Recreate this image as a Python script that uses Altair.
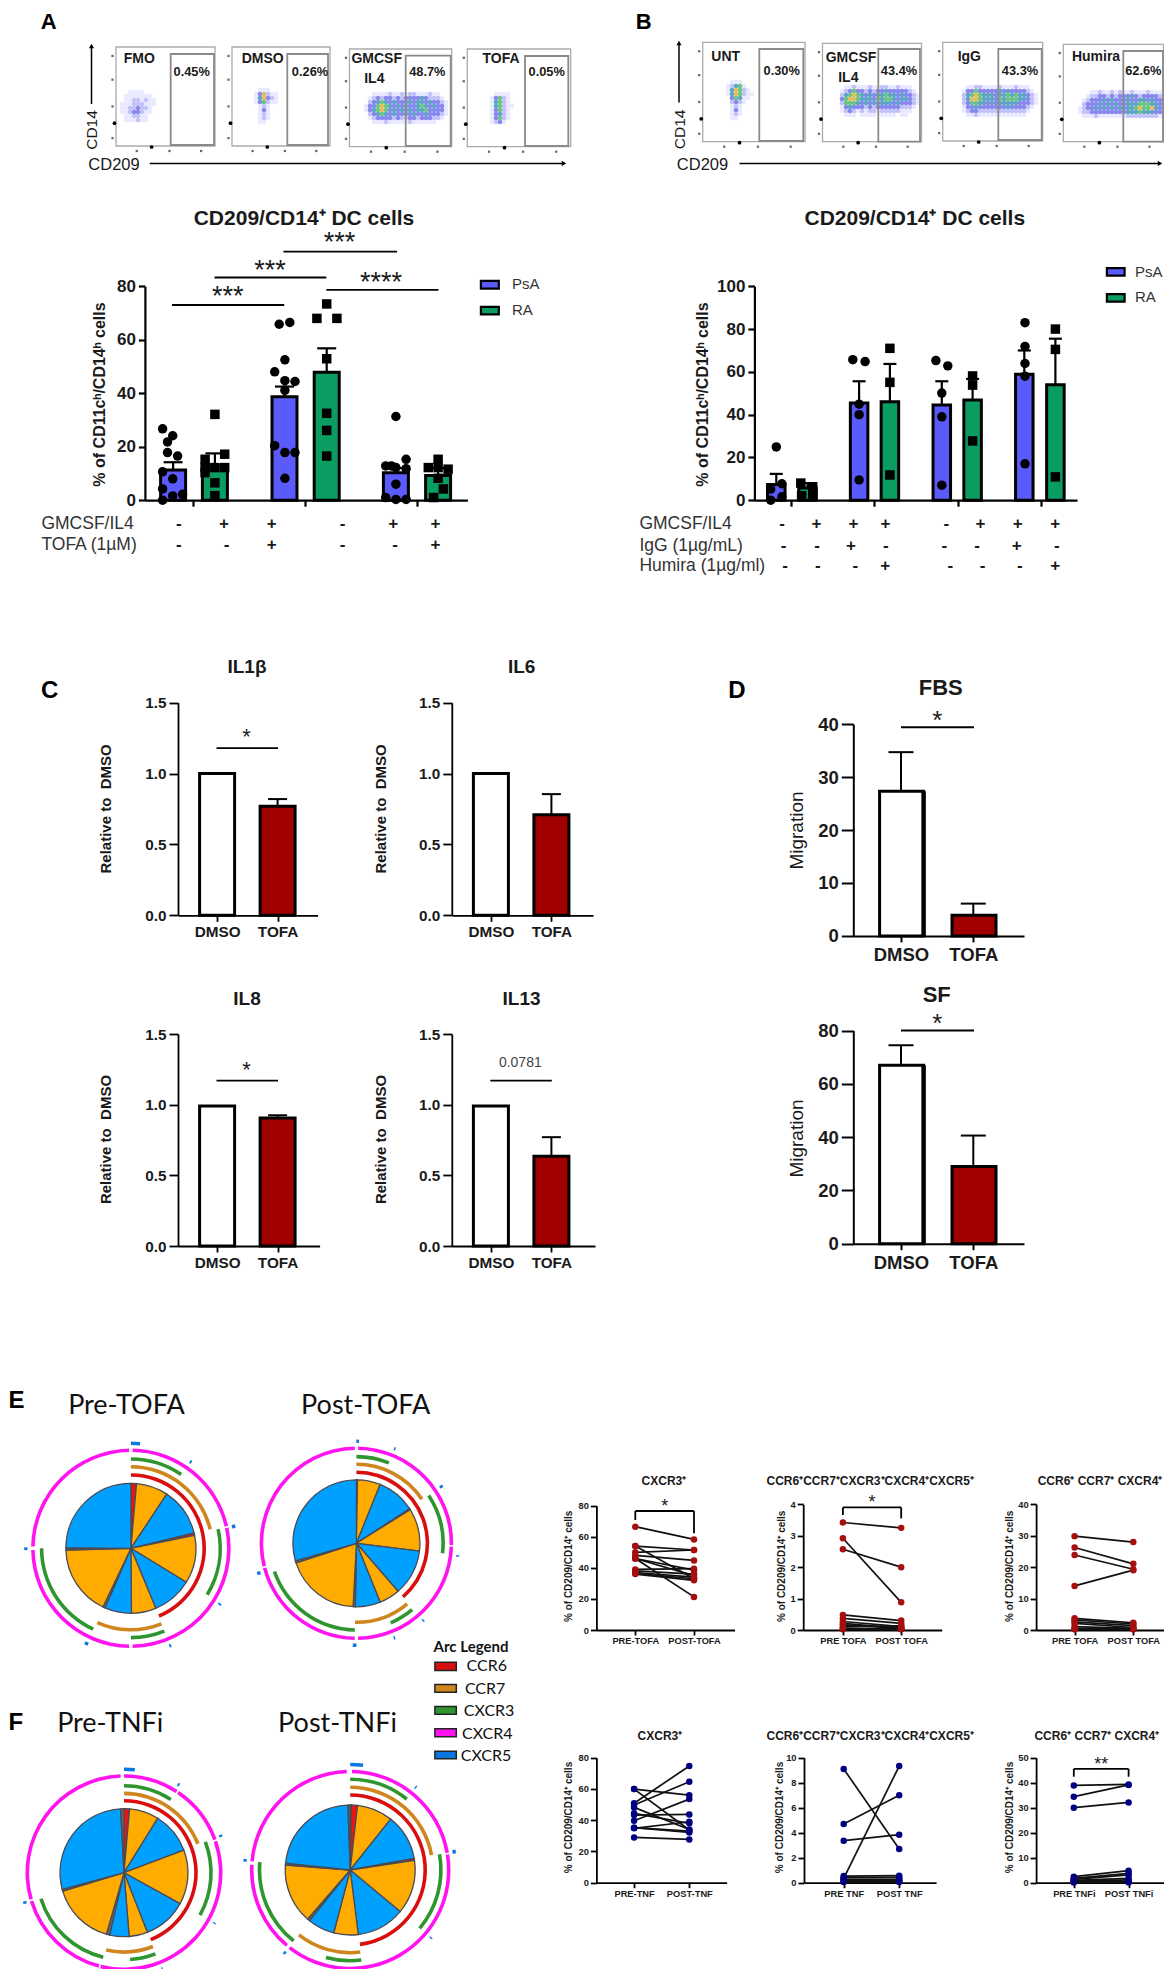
import altair as alt
import pandas as pd

SANS = "Liberation Sans"
CAL = "Lato"
PAGE_W, PAGE_H = 1156, 1961

PALETTE = {
    "PsA": "#5b5bfb", "RA": "#0b9c62", "DMSO": "#ffffff", "TOFA": "#a00000",
    "CCR6": "#d90f0f", "CCR7": "#cf861e", "CXCR3": "#2f962f", "CXCR4": "#ff14f0", "CXCR5": "#0a78e0",
    "red": "#f01212", "orange": "#ffab00", "blue": "#00a0ff", "grey": "#666666",
    "d1": "#e4e4ff", "d2": "#b4b4f8", "d3": "#6a6aea", "d4": "#3a8fb8", "d5": "#48b868", "d6": "#d8b038",
}
COLOR = dict(scale=alt.Scale(domain=list(PALETTE), range=list(PALETTE.values())), legend=None)


class Panel:
    def __init__(self, xl, xr, yb, yt, dom):
        self.xl, self.xr, self.yb, self.yt, self.dom = xl, xr, yb, yt, dom
        self.L = xr - xl
        self.xs = alt.Scale(domain=[0, self.L], range=[xl - 8, xr - 8], nice=False, zero=False)
        self.ys = alt.Scale(domain=list(dom), range=[yb - 8, yt - 8], nice=False, zero=False)

    def X(self, f="x"):
        return alt.X(f"{f}:Q", scale=self.xs, axis=None)

    def Y(self, f="y"):
        return alt.Y(f"{f}:Q", scale=self.ys, axis=None)


page = Panel(0, 1172, 0, 1977, (0, 1977))
layers = []


def rules(p, rows, width=2, color="black"):
    df = pd.DataFrame(rows, columns=["x", "y", "x2", "y2"])
    layers.append(alt.Chart(df).mark_rule(strokeWidth=width, color=color).encode(
        x=p.X(), y=p.Y(), x2=alt.X2("x2:Q"), y2=alt.Y2("y2:Q")))


def texts(p, rows, size, weight="normal", align="center", color="#1a1a1a", font=SANS, angle=None, dy=0):
    df = pd.DataFrame(rows, columns=["x", "y", "t"])
    kw = dict(fontSize=size, fontWeight=weight, align=align, baseline="middle", color=color, font=font, dy=dy)
    if angle is not None:
        kw["angle"] = angle
    layers.append(alt.Chart(df).mark_text(**kw).encode(x=p.X(), y=p.Y(), text="t:N"))


def boxes(p, rows, width=2, color="black", fill=False):
    cols = ["x", "y", "x2", "y2"] + (["k"] if fill else [])
    df = pd.DataFrame(rows, columns=cols)
    if fill:
        m = alt.Chart(df).mark_rect(stroke=color, strokeWidth=width).encode(
            x=p.X(), y=p.Y(), x2=alt.X2("x2:Q"), y2=alt.Y2("y2:Q"), color=alt.Color("k:N", **COLOR))
    else:
        m = alt.Chart(df).mark_rect(stroke=color, strokeWidth=width, fillOpacity=0, fill="white").encode(
            x=p.X(), y=p.Y(), x2=alt.X2("x2:Q"), y2=alt.Y2("y2:Q"))
    layers.append(m)


def dots(p, rows, shape="circle", size=80, color="black"):
    df = pd.DataFrame(rows, columns=["x", "y"])
    layers.append(alt.Chart(df).mark_point(filled=True, shape=shape, size=size, color=color, opacity=1).encode(
        x=p.X(), y=p.Y()))


def axes(p, yvals, ytitle, title_xy, xvals, xlabels=None, lab=15, tsize=15, tweight="bold", ytick=6, xtick=6,
         yfmt="d", w=2, pady=3, padx=3, tfont=SANS):
    df = pd.DataFrame({"x": [0, p.L], "y": list(p.dom)})
    lo = alt.Axis(orient="left", offset=-(p.xl - 8), values=yvals, format=yfmt, grid=False, tickSize=ytick, tickWidth=w,
                  domainWidth=w, tickColor="black", domainColor="black", labelFont=SANS, labelFontSize=lab,
                  labelFontWeight="bold", labelColor="#1a1a1a", labelPadding=pady, labelOverlap=False,
                  labelFlush=False, title=ytitle, titleFont=tfont, titleFontSize=tsize, titleFontWeight=tweight,
                  titleColor="#1a1a1a", titleX=title_xy[0] - p.xl, titleY=title_xy[1] - 8, titleBaseline="middle",
                  titleAngle=270, titleAlign="center")
    kw = dict(orient="bottom", offset=-(PAGE_H - (p.yb - 8)), values=xvals, grid=False, tickSize=xtick, tickWidth=w,
              domainWidth=w, tickColor="black", domainColor="black", title=None, labelFont=SANS, labelFontSize=lab,
              labelFontWeight="bold", labelColor="#1a1a1a", labelPadding=padx, labelOverlap=False, labelFlush=False)
    if xlabels:
        mid = sum(xvals) / 2
        kw["labelExpr"] = f"datum.value < {mid} ? '{xlabels[0]}' : '{xlabels[1]}'"
    else:
        kw["labels"] = False
    layers.append(alt.Chart(df).mark_point(opacity=0).encode(
        x=alt.X("x:Q", scale=p.xs, axis=alt.Axis(**kw)), y=alt.Y("y:Q", scale=p.ys, axis=lo)))


def bars(p, xs, tops, kinds, w, sw=3):
    df = pd.DataFrame({"x": [a - (w - sw) / 2 for a in xs], "x2": [a + (w - sw) / 2 for a in xs], "y": tops,
                       "y2": [0] * len(xs), "k": kinds})
    layers.append(alt.Chart(df).mark_rect(stroke="black", strokeWidth=sw).encode(
        x=p.X(), y=p.Y(), x2=alt.X2("x2:Q"), y2=alt.Y2("y2:Q"), color=alt.Color("k:N", **COLOR)))


def errs(p, xs, tops, errors, cap, width=2.2):
    rows = []
    for a, t, e in zip(xs, tops, errors):
        rows.append((a, t, a, e))
        rows.append((a - cap / 2, e, a + cap / 2, e))
    rules(p, rows, width)


# ---------------------------------------------------------------- A / B bars
A_bar_x = [28.2, 70, 139.6, 181.8, 251, 293.2]
A_means = [11.3, 12.9, 38.7, 47.9, 10.3, 9.2]
A_errors = [14.2, 17.5, 42.5, 56.8, 12, 12]
A_kinds = ["PsA", "RA"] * 3
A_ticks = [48.1, 160, 272.1]
A_points = [
    [(-10.5, 26.7), (-.4, 24.1), (-5.6, 21.8), (4.5, 16.5), (-5.6, 17.8), (-10.5, 10.6), (-.4, 8), (-10.5, 4.2), (9.4, 2.2), (-.4, 1.6), (-10.5, 0)],
    [(0, 32.1), (9.8, 17.2), (-9.8, 15.3), (9.8, 12.2), (-9.8, 10.3), (0, 6.5), (0, 1.7), (-9.8, 12.2), (0, 12.2)],
    [(-5.3, 65.8), (5.3, 66.5), (.4, 52.5), (-9.8, 48), (.4, 44.7), (10.5, 44.4), (.4, 41.1), (-9.8, 20.4), (.4, 17.8), (10.5, 17.8), (.4, 8.2)],
    [(0, 73.4), (-9.8, 68), (10.2, 68), (0, 52.9), (0, 32.5), (0, 26.1), (0, 16.5)],
    [(0, 31.3), (10.2, 15.3), (-10.2, 12.8), (0, 12.2), (10.2, 11.8), (0, 6), (-10.2, 1), (0, .3), (10.2, .3), (-4.5, 12.8)],
    [(0, 15.3), (-9.8, 12.2), (10, 11.6), (0, 12.2), (0, 8.2), (5.3, 4.2), (-4.5, 1)],
]
A_sig = [(27.1, 73, 139.3, "***", 82.8, 78.7), (69.6, 83.3, 181.4, "***", 125, 88.5),
         (138.5, 93, 252.2, "***", 194.6, 98.8), (181.4, 78.7, 293.6, "****", 236, 83.9)]
A_row_names = ["GMCSF/IL4", "TOFA (1µM)"]
A_row1 = [(33.9, "-"), (79, "+"), (126.8, "+"), (197.6, "-"), (248.3, "+"), (290.6, "+")]
A_row2 = [(33.9, "-"), (81.6, "-"), (126.8, "+"), (197.6, "-"), (250.2, "-"), (290.6, "+")]

B_bar_x = [21.9, 53.1, 104.7, 135.5, 187.4, 218.2, 269.9, 301]
B_means = [7.3, 5.7, 45.4, 46, 44.5, 46.9, 58.9, 54]
B_errors = [12.3, 8, 55.6, 63.7, 55.6, 56.7, 70, 75.5]
B_kinds = ["PsA", "RA"] * 4
B_ticks = [36.4, 119.6, 203.9, 286.6]
B_points = [
    [(0, 24.9), (5.6, 7.7), (-5.6, 5.2), (5.6, 1.6), (-5.6, 0)],
    [(-6.7, 8), (5.2, 6.3), (5.2, 2.1), (-5.9, 2.1)],
    [(-6.3, 65.7), (6, 64.8), (0, 44.9), (0, 40), (0, 9.5)],
    [(0, 71), (0, 55.1), (0, 11.8)],
    [(-5.9, 65.3), (6, 62.8), (0, 50.1), (0, 39), (0, 7)],
    [(0, 58.1), (0, 53.8), (0, 27.7)],
    [(.7, 83), (.7, 71.9), (.7, 63.9), (.7, 58), (.7, 17)],
    [(0, 80), (0, 70.5), (0, 10.9)],
]
B_row1 = [(27.8, "-"), (62, "+"), (99.1, "+"), (131, "+"), (191.9, "-"), (226.1, "+"), (263.2, "+"), (300.7, "+")]
B_row2 = [(29.3, "-"), (62.7, "-"), (96.5, "+"), (131.4, "-"), (190, "-"), (222.7, "-"), (262.4, "+"), (302.5, "-")]
B_row3 = [(30.8, "-"), (63.5, "-"), (101, "-"), (130.7, "+"), (196, "-"), (228.3, "-"), (265.4, "-"), (300.7, "+")]

YTITLE_AB = "% of CD11cʰ/CD14ʰ cells"

pA = Panel(144.9, 467.4, 500.2, 286.3, (0, 80))
axes(pA, [0, 20, 40, 60, 80], YTITLE_AB, (99.7, 394), A_ticks, lab=17, tsize=16, ytick=6.5, w=2.2)
bars(pA, A_bar_x, A_means, A_kinds, 28)
errs(pA, A_bar_x, A_means, A_errors, 19)
for i, pts in enumerate(A_points):
    dots(pA, [(A_bar_x[i] + dx, v) for dx, v in pts], "circle" if i % 2 == 0 else "square", 90)
for x1, y1, x2, s, sx, sy in A_sig:
    rules(pA, [(x1, y1, x2, y1)], 1.8)
    texts(pA, [(sx, sy, s)], 27, dy=7)
texts(pA, [(x, -9, t) for x, t in A_row1] + [(x, -16.6, t) for x, t in A_row2], 17, "bold")

pB = Panel(754.4, 1077, 500.2, 286.3, (0, 100))
axes(pB, [0, 20, 40, 60, 80, 100], YTITLE_AB, (702.5, 394), B_ticks, lab=17, tsize=16, ytick=6.5, w=2.2)
bars(pB, B_bar_x, B_means, B_kinds, 20.5)
errs(pB, B_bar_x, B_means, B_errors, 13)
for i, pts in enumerate(B_points):
    dots(pB, [(B_bar_x[i] + dx, v) for dx, v in pts], "circle" if i % 2 == 0 else "square", 90)
texts(pB, [(x, -11.3, t) for x, t in B_row1] + [(x, -21.3, t) for x, t in B_row2] + [(x, -30.6, t) for x, t in B_row3],
      17, "bold")

texts(page, [(304, 219.3, "CD209/CD14⁺ DC cells"), (914.8, 219.3, "CD209/CD14⁺ DC cells")], 21, "bold")
texts(page, [(41.4, 524.3, A_row_names[0]), (41.4, 544.6, A_row_names[1]), (639.4, 524.3, "GMCSF/IL4"),
             (639.4, 545.7, "IgG (1µg/mL)"), (639.4, 565.6, "Humira (1µg/ml)")], 17.5, align="left", color="#333333")

# legends of A and B
boxes(page, [(480.9, 280.8, 498.8, 288.7, "PsA"), (480.9, 306.8, 498.8, 314.3, "RA"),
             (1106.9, 268.1, 1124.6, 275.7, "PsA"), (1106.9, 294.1, 1124.6, 301.7, "RA")], 2.2, fill=True)
texts(page, [(511.9, 284, "PsA"), (511.9, 310, "RA"), (1135, 271.7, "PsA"), (1135, 297.4, "RA")], 15,
      align="left", color="#333333")

# ---------------------------------------------------------------- flow plots
flow_frames = [
    (116, 215, 47, 146), (232, 330, 47, 146), (349.5, 451.7, 49, 146.7), (467.3, 570.7, 49, 146.7),
    (702.7, 805, 42.3, 141.7), (822.5, 921.5, 43.3, 141.7), (942.7, 1042.7, 42.3, 141), (1063.3, 1163.5, 44.3, 141.7),
]
flow_gates = [
    (170.7, 214, 54, 145), (287.3, 328, 54, 145), (405.7, 450.7, 55.7, 146), (525, 568.3, 56, 146),
    (759.3, 803.3, 49, 141), (878.3, 920, 49, 141.7), (998.3, 1041.7, 49, 140), (1123.3, 1163, 51, 141.7),
]
flow_names = [
    (139.3, 59, "FMO"), (262.7, 59, "DMSO"), (376.7, 59, "GMCSF"), (374.3, 78.7, "IL4"), (501, 59, "TOFA"),
    (725.7, 56.7, "UNT"), (851, 57.7, "GMCSF"), (848.3, 77.7, "IL4"), (969.3, 56.7, "IgG"), (1096, 56.7, "Humira"),
]
flow_pct = [
    (191.7, 71.7, "0.45%"), (310, 71.7, "0.26%"), (427.3, 71.7, "48.7%"), (546.7, 72.3, "0.05%"),
    (781.7, 70.7, "0.30%"), (899, 70.7, "43.4%"), (1020, 70.7, "43.3%"), (1143.3, 70.7, "62.6%"),
]
flow_density = [
    (120, 90, ["0011110000", "0111111100", "0112212110", "1112221110", "1122322100", "1123321100", "0112211000", "0111211000"]),
    (250, 88, ["0011100", "0136211", "0146321", "0135211", "0012100", "0013100", "0012100", "0012100", "0011000"]),
    (364, 92, ["001111211212211121100", "012323323233334322210", "023454343334344343321", "133565434343345434331",
               "134565343434344533331", "023454343343433433321", "012333323223323332210", "001112111112111111000"]),
    (486, 92, ["0011110", "0135210", "0145210", "0145211", "0135210", "0134210", "0135210", "0123100"]),
    (722, 80, ["00111000", "01245100", "01465210", "01465211", "00354110", "00232100", "00121000", "00131000", "00121000", "00110000"]),
    (836, 85, ["001121112112211211100", "012353323233433333210", "024565434344544343321", "035665444354554344321",
               "025554343434443433321", "013433323233333322210", "012321212212222211100", "001110111101111011000"]),
    (958, 85, ["00112211112111211100", "01335333334343333210", "02456544434454544321", "02466544435455544321",
               "02355443434444433321", "01334333333343333210", "01233222222222222100", "00112111111111111000"]),
    (1078, 90, ["00011211212112111211100", "00122332323334323333210", "01233343433343344343321", "02333434343344455544321",
                "12334343434344565564321", "12233333333344454443321", "01112111111122222222110"]),
]
rows = []
for x0, y0, grid in flow_density:
    for r, line in enumerate(grid):
        for c, ch in enumerate(line):
            if ch != "0":
                rows.append((x0 + 4 * c + 2, y0 + 4 * r + 2, "d" + ch))
rows.sort(key=lambda t: t[2])
layers.append(alt.Chart(pd.DataFrame(rows, columns=["x", "y", "k"])).mark_point(
    filled=True, shape="circle", size=22, opacity=0.8, strokeWidth=0).encode(
    x=page.X(), y=page.Y(), color=alt.Color("k:N", **COLOR), order=alt.Order("k:N")))
boxes(page, [(l, t, r, b) for l, r, t, b in flow_frames], 1.3, "#aaaaaa")
boxes(page, [(l, t, r, b) for l, r, t, b in flow_gates], 1.8, "#8a8a8a")
grey_t, black_t = [], []
for l, r, t, b in flow_frames:
    for f in (.09, .33, .6, .92):
        grey_t.append((l - 3.5, t + (b - t) * f))
    for f in (.21, .54, .86):
        grey_t.append((l + (r - l) * f, b + 5))
    black_t.append((l - 1.5, t + (b - t) * .77))
    black_t.append((l + (r - l) * .36, b + 1))
dots(page, grey_t, "square", 5, "#666666")
dots(page, black_t, "circle", 14, "black")
texts(page, flow_names, 14, "bold")
texts(page, flow_pct, 12.8, "bold")
texts(page, [(91.5, 130, "CD14"), (680.2, 129.4, "CD14")], 15.5, angle=270)
texts(page, [(114, 164.6, "CD209"), (702.5, 164.6, "CD209")], 16.5)
rules(page, [(91.5, 104, 91.5, 47), (149.8, 163.4, 563, 163.4), (679, 102.6, 679, 44), (739.6, 163.4, 1160, 163.4)], 1.5)
dots(page, [(91.5, 46), (679, 43)], "triangle-up", 26)
dots(page, [(564, 163.4), (1160, 163.4)], "triangle-right", 26)

# ---------------------------------------------------------------- C
C_names = ["IL1β", "IL6", "IL8", "IL13"]
C_dmso = [1.0, 1.0, 0.99, 0.99]
C_tofa = [0.77, 0.71, 0.905, 0.635]
C_err = [0.82, 0.855, 0.925, 0.77]
C_layout = [(178, 317.6, 915.3, 702.7, 667.4, 105.3, 808.4), (451.8, 593, 915.3, 702.7, 667.4, 380.8, 808.4),
            (178, 319.6, 1246, 1034, 999, 105.3, 1139), (451.8, 595, 1246, 1034, 999, 380.8, 1139)]
C_title_x = [247, 521.6, 247, 521.6]
for i, name in enumerate(C_names):
    xl, xr, yb, yt, ty, tx, tcy = C_layout[i]
    p = Panel(xl, xr, yb, yt, (0, 1.5))
    axes(p, [0, .5, 1, 1.5], "Relative to\u00a0\u00a0DMSO", (tx, tcy), [39.1, 99.6], ["DMSO", "TOFA"], lab=15.3, tsize=15,
         ytick=9, yfmt=".1f", w=1.8, padx=3)
    bars(p, [39.1, 99.6], [C_dmso[i], C_tofa[i]], ["DMSO", "TOFA"], 38)
    errs(p, [99.6], [C_tofa[i]], [C_err[i]], 19, 2)
    texts(page, [(C_title_x[i], ty, name)], 19, "bold")
for idx, lab, ly, sy in [(0, "*", 1.18, 1.29), (2, "*", 1.17, 1.28), (3, "0.0781", 1.17, 1.295)]:
    xl, xr, yb, yt, *_ = C_layout[idx]
    p = Panel(xl, xr, yb, yt, (0, 1.5))
    rules(p, [(38.5, ly, 100, ly)], 1.8)
    if lab == "*":
        texts(p, [(68.5, sy, lab)], 22, dy=5)
    else:
        texts(p, [(68.5, sy, lab)], 14, color="#444444")

# ---------------------------------------------------------------- D
D_names = ["FBS", "SF"]
D_dmso = [27.3, 67]
D_tofa = [3.9, 29]
D_dmso_err = [34.7, 74.5]
D_tofa_err = [6.1, 40.6]
D_layout = [(935.9, 724.1, 40, [0, 10, 20, 30, 40], 687.8, 940.7, 41.8, 39.4, 830),
            (1243.7, 1030.6, 80, [0, 20, 40, 60, 80], 994.7, 936.7, 84.7, 80, 1138)]
for i, name in enumerate(D_names):
    yb, yt, top, vals, ty, tx, sy, ly, tcy = D_layout[i]
    p = Panel(853.3, 1024, yb, yt, (0, top))
    axes(p, vals, "Migration", (796, tcy), [47.7, 120], ["DMSO", "TOFA"], lab=18.5, tsize=19, tweight="normal",
         ytick=12, w=2, padx=4)
    bars(p, [48.3, 120.7], [D_dmso[i], D_tofa[i]], ["DMSO", "TOFA"], 47, 3)
    rules(p, [(70.3, 0, 70.3, D_dmso[i])], 4.5)
    errs(p, [47.7, 120], [D_dmso[i], D_tofa[i]], [D_dmso_err[i], D_tofa_err[i]], 25, 2)
    rules(p, [(47.7, ly, 120.7, ly)], 2)
    texts(p, [(84, sy, "*")], 26, dy=6)
    texts(page, [(tx, ty, name)], 22, "bold")

# ---------------------------------------------------------------- E / F pies
KIND_WIDTH = 3.6


def pie(cx, cy, R, sectors, rings, ring_r, ticks, tick_r):
    p = Panel(cx - 150, cx + 150, cy + 150, cy - 150, (-150, 150))
    th = alt.Theta("a:Q", scale=alt.Scale(domain=[0, 360]), stack=None)
    df = pd.DataFrame(sectors, columns=["a", "b", "k"]).assign(x=150, y=0)
    layers.append(alt.Chart(df).mark_arc(radius=R, radius2=0, stroke="#4a4a55", strokeWidth=1.3).encode(
        x=p.X(), y=p.Y(), theta=th, theta2=alt.Theta2("b:Q"), color=alt.Color("k:N", **COLOR)))
    for kind, segs in rings.items():
        r = ring_r[kind]
        d = pd.DataFrame(segs, columns=["a", "b"]).assign(x=150, y=0, k=kind)
        layers.append(alt.Chart(d).mark_arc(radius=r + KIND_WIDTH / 2, radius2=r - KIND_WIDTH / 2).encode(
            x=p.X(), y=p.Y(), theta=th, theta2=alt.Theta2("b:Q"), color=alt.Color("k:N", **COLOR)))
    d = pd.DataFrame(ticks, columns=["a", "b"]).assign(x=150, y=0, k="CXCR5")
    layers.append(alt.Chart(d).mark_arc(radius=tick_r + 1.7, radius2=tick_r - 1.7).encode(
        x=p.X(), y=p.Y(), theta=th, theta2=alt.Theta2("b:Q"), color=alt.Color("k:N", **COLOR)))


pre_tofa_sectors = [(0, 5, "red"), (5, 33.5, "orange"), (33.5, 76.5, "blue"), (76.5, 78.5, "red"), (78.5, 121.5, "orange"),
                    (121.5, 157.5, "blue"), (157.5, 179.5, "orange"), (179.5, 203.5, "blue"), (203.5, 205.5, "grey"),
                    (205.5, 268.5, "orange"), (268.5, 270.5, "grey"), (270.5, 360, "blue")]
pie(130.9, 1548.3, 65, pre_tofa_sectors,
    {"CXCR4": [(1, 77), (78, 179), (181, 269), (271, 359)], "CCR6": [(0, 157.5)], "CCR7": [(0, 76.5), (158, 204.3)],
     "CXCR3": [(0, 34.3), (77.6, 121.3), (158, 180), (205, 270)]},
    {"CXCR4": 98, "CCR6": 73.3, "CCR7": 81.5, "CXCR3": 89.3},
    [(0, 5), (34.2, 35.2), (77, 79), (121.7, 122.7), (157.5, 158.5), (204, 206), (269, 270.5)], 105)

post_tofa_sectors = [(0, 1, "grey"), (1, 22, "orange"), (22, 57, "blue"), (57, 58, "grey"), (58, 97, "orange"),
                     (97, 139, "blue"), (139, 158, "orange"), (158, 181, "blue"), (181, 183, "grey"),
                     (183, 252, "orange"), (252, 254, "grey"), (254, 360, "blue")]
pie(356.4, 1543.3, 63.5, post_tofa_sectors,
    {"CXCR4": [(1, 91), (92, 179), (181, 255), (256, 359)], "CCR6": [(0, 139)], "CCR7": [(0, 56), (140, 181)],
     "CXCR3": [(0, 22), (56.5, 96.6), (140, 156.7), (181, 251)]},
    {"CXCR4": 95, "CCR6": 71, "CCR7": 79, "CXCR3": 86.7},
    [(0, 1.5), (21.7, 22.5), (55.5, 57), (96.7, 97.5), (138.7, 139.5), (157.7, 158.5), (180, 182), (252, 254)], 102)

pre_tnf_sectors = [(0, 5, "red"), (5, 31.8, "orange"), (31.8, 69.4, "blue"), (69.4, 118.9, "orange"), (118.9, 158.6, "blue"),
                   (158.6, 175.4, "orange"), (175.4, 193, "blue"), (193, 196, "grey"), (196, 253.3, "orange"),
                   (253.3, 255, "grey"), (255, 357, "blue"), (357, 360, "grey")]
pie(124, 1872.7, 64, pre_tnf_sectors,
    {"CXCR4": [(0, 33), (34, 70), (71, 194), (195, 253), (254, 358)], "CCR6": [(0, 158.2)], "CCR7": [(0, 68.6), (158.6, 193)],
     "CXCR3": [(0, 32.6), (69.2, 119.2), (158.8, 176), (193.8, 252.6)]},
    {"CXCR4": 96.7, "CCR6": 72, "CCR7": 79.3, "CXCR3": 87},
    [(0, 6), (31.3, 32.3), (68.5, 69.7), (118.8, 119.5), (158, 158.7), (193.5, 195), (252.5, 254)], 103.5)

post_tnf_sectors = [(0, 1, "grey"), (1, 6.5, "red"), (6.5, 38.5, "orange"), (38.5, 79.8, "blue"), (79.8, 81.5, "red"),
                    (81.5, 129.8, "orange"), (129.8, 172.9, "blue"), (172.9, 194.7, "orange"), (194.7, 218.8, "blue"),
                    (218.8, 221, "grey"), (221, 274.4, "orange"), (274.4, 276, "grey"), (276, 358, "blue"), (358, 360, "grey")]
pie(350.2, 1870, 65, post_tnf_sectors,
    {"CXCR4": [(1, 80), (81, 218), (220, 273), (275, 358)], "CCR6": [(0, 172.5)], "CCR7": [(0, 79.6), (173, 218.3)],
     "CXCR3": [(0, 38.6), (80, 130), (173, 195.5), (218.6, 275)]},
    {"CXCR4": 98.5, "CCR6": 75, "CCR7": 82.7, "CXCR3": 90.7},
    [(0, 7), (38, 38.8), (79, 81), (129.7, 130.4), (195, 195.7), (217.7, 219), (274.5, 276)], 105.5)

texts(page, [(126.4, 1406, "Pre-TOFA"), (365.7, 1406, "Post-TOFA"), (110.2, 1724.3, "Pre-TNFi"), (337.5, 1724.3, "Post-TNFi")],
      27, font=CAL, color="#111111")

arc_names = ["CCR6", "CCR7", "CXCR3", "CXCR4", "CXCR5"]
arc_boxes = [(434.9, 1662.2, 456.3, 1670.5), (434.9, 1684.5, 456.3, 1692.2), (434.9, 1706.5, 456.3, 1714.2),
             (434.9, 1728.8, 456.3, 1736.8), (434.9, 1751.2, 456.3, 1758.8)]
arc_text = [(466.6, 1666.3), (464.9, 1688.7), (463.8, 1710.7), (462, 1734.3), (460.7, 1756)]
boxes(page, [b + (n,) for b, n in zip(arc_boxes, arc_names)], 1.5, "#222222", fill=True)
texts(page, [t + (n,) for t, n in zip(arc_text, arc_names)], 16, font=CAL, align="left", color="#111111")
texts(page, [(471, 1646.7, "Arc Legend")], 15, "bold", font=CAL, color="#111111")
texts(page, [(48.6, 22, "A"), (643.6, 22, "B")], 22, "bold", color="#000000")
texts(page, [(49.7, 690.5, "C"), (737, 690.6, "D")], 24, "bold", color="#000000")
texts(page, [(8.5, 1401, "E"), (8.5, 1723, "F")], 24, "bold", align="left", color="#000000")

# ---------------------------------------------------------------- paired line panels
E1_pre = [66.5, 54, 54, 50, 48, 46, 46, 39, 38, 37, 36.5, 36, 46]
E1_post = [58.3, 51.5, 33, 51.5, 44.8, 38.5, 21.3, 39.5, 36, 34, 33, 32, 35]
E2_pre = [3.42, 2.92, 2.57, .48, .37, .27, .16, .1, .05, .03, .02, .21]
E2_post = [3.25, .88, 2.0, .3, .21, .11, .05, .13, .02, .03, .02, .05]
E3_pre = [29.8, 26.2, 23.8, 14, 3.7, 3.2, 2.6, 2.1, 1.1, .5, .3, .2]
E3_post = [27.9, 21, 19.3, 19, 2.3, 1.9, 1.4, .8, .5, .3, .2, .2]
F1_pre = [59.9, 59.9, 50.8, 49.7, 48.2, 43.3, 39.7, 35.2, 34.8, 29, 44.4, 35.2]
F1_post = [56, 33.7, 74.7, 64.6, 34.1, 43.7, 53.5, 33, 39, 27.7, 38, 32.2]
F2_pre = [9.1, 4.7, 3.36, .35, .53, .4, .27, .19, .1, .05]
F2_post = [2.7, 7, 3.84, 9.33, .56, .43, .27, .19, .13, .05]
F3_pre = [38.9, 34.4, 30, 2.4, 1.7, 1.3, .9, .5, .3, .1]
F3_post = [39.3, 39.1, 32.1, 4.8, 3.7, 3.1, 1.7, 1.1, .4, .1]

TITLE3 = "CCR6⁺CCR7⁺CXCR3⁺CXCR4⁺CXCR5⁺"
line_panels = [
    ("CXCR3⁺", 663.9, 1480.7, 596.4, 734.5, 1630, 1505.7, (0, 80), [0, 20, 40, 60, 80], (38.9, 97.6), ("PRE-TOFA", "POST-TOFA"), 568.7, 1565.8, "#a50f0f", E1_pre, E1_post),
    (TITLE3, 870.2, 1480.7, 803.2, 941.7, 1630, 1504.3, (0, 4), [0, 1, 2, 3, 4], (39.7, 98), ("PRE TOFA", "POST TOFA"), 781, 1565.8, "#a50f0f", E2_pre, E2_post),
    ("CCR6⁺ CCR7⁺ CXCR4⁺", 1100, 1480.7, 1036.1, 1172, 1630, 1504, (0, 40), [0, 10, 20, 30, 40], (38.5, 97.2), ("PRE TOFA", "POST TOFA"), 1009.1, 1565.8, "#a50f0f", E3_pre, E3_post),
    ("CXCR3⁺", 659.9, 1736, 596.4, 726.6, 1882.7, 1757.7, (0, 80), [0, 20, 40, 60, 80], (37.7, 92.9), ("PRE-TNF", "POST-TNF"), 568.7, 1817, "#000080", F1_pre, F1_post),
    (TITLE3, 870.2, 1736, 804, 936.1, 1882.7, 1757.7, (0, 10), [0, 2, 4, 6, 8, 10], (39.7, 95.2), ("PRE TNF", "POST TNF"), 779.4, 1817, "#000080", F2_pre, F2_post),
    ("CCR6⁺ CCR7⁺ CXCR4⁺", 1096.8, 1736, 1036.1, 1165.9, 1882.7, 1757.7, (0, 50), [0, 10, 20, 30, 40, 50], (37.7, 92.5), ("PRE TNFi", "POST TNFi"), 1009.1, 1817, "#000080", F3_pre, F3_post),
]
brackets = {0: (76.6, 70.8, 62.2, "*", 82), 1: (3.9, 3.66, 3.55, "*", 4.16), 5: (45.5, 42.4, 42.4, "**", 48.8)}
for i, (title, tx, ty, xl, xr, yb, yt, dom, vals, tk, labs, ytx, yty, col, pre, post) in enumerate(line_panels):
    p = Panel(xl, xr, yb, yt, dom)
    axes(p, vals, "% of CD209/CD14⁺ cells", (ytx, yty), list(tk), list(labs), lab=9.3, tsize=10, ytick=6, xtick=5,
         w=1.8, pady=2, padx=1.5)
    long = []
    for j, (a, b) in enumerate(zip(pre, post)):
        long += [(tk[0], a, j), (tk[1], b, j)]
    df = pd.DataFrame(long, columns=["x", "y", "id"])
    layers.append(alt.Chart(df).mark_line(color="#111111", strokeWidth=1.7).encode(x=p.X(), y=p.Y(), detail="id:N"))
    layers.append(alt.Chart(df).mark_point(filled=True, size=42, color=col, opacity=1).encode(x=p.X(), y=p.Y()))
    texts(page, [(tx, ty, title)], 12, "bold")
    if i in brackets:
        top, dl, dr, s, sy = brackets[i]
        rules(p, [(tk[0], dl, tk[0], top), (tk[0], top, tk[1], top), (tk[1], top, tk[1], dr)], 1.8)
        texts(p, [((tk[0] + tk[1]) / 2, sy, s)], 18, dy=4)

chart = alt.layer(*layers).properties(
    width=PAGE_W, height=PAGE_H, padding=0, autosize=alt.AutoSizeParams(type="none", contains="content"),
    background="white",
).resolve_scale(x="independent", y="independent", theta="independent").resolve_axis(
    x="independent", y="independent").configure_view(stroke=None)

chart.save("out.html", embed_options={"renderer": "svg", "actions": False})
